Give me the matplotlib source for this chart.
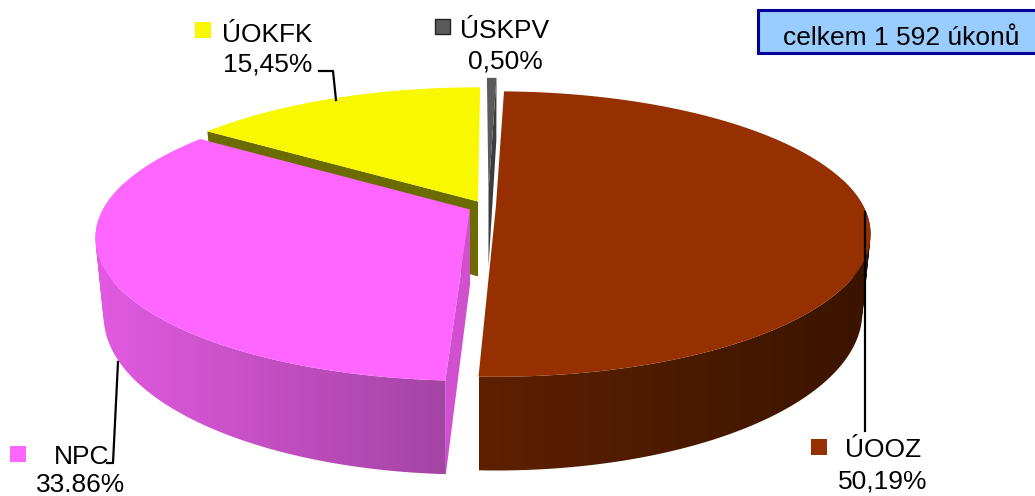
import matplotlib

matplotlib.use("Agg")
import matplotlib.pyplot as plt
import numpy as np
from matplotlib.colors import to_rgb
from matplotlib.patches import Polygon, Rectangle
from matplotlib.path import Path

plt.rcParams["font.family"] = ["Liberation Sans", "DejaVu Sans"]

labels = ["ÚOOZ", "NPC", "ÚOKFK", "ÚSKPV"]
shares = [50.19, 33.86, 15.45, 0.50]
share_texts = ["50,19%", "33.86%", "15,45%", "0,50%"]
note_text = "celkem 1 592 úkonů"

START_ANGLE = 1.5
RX, RY = 367.0, 137.0
PERSP = 0.2
DEPTH = 75.0
BOTTOM_SCALE = 0.978

top_colors = ["#963000", "#ff66ff", "#f8f800", "#5a5a5a"]
wall_left = ["#5e2000", "#e25ae2", None, None]
wall_right = ["#3a1400", "#a444a4", None, None]
radial_colors = [None, "#d050d0", "#6b6b00", "#3c3c3c"]
radial_edge = [None, 0, 0, 1]
centers = [(496, 205.5), (470, 209.5), (478, 201.5), (488.5, 192)]
angle_nudge = [0.0, 0.9, 0.7, 0.0]
draw_order = [3, 2, 1, 0]


def project(center, theta_deg):
    theta = np.radians(theta_deg)
    u, v = np.sin(theta), -np.cos(theta)
    w = 1.0 - PERSP * v
    return center[0] + RX * u / w, center[1] + RY * v / w, DEPTH / w


def bottom_x(center, x):
    return center[0] + (x - center[0]) * BOTTOM_SCALE


fig = plt.figure(figsize=(10.35, 4.96), dpi=100)
ax = fig.add_axes([0, 0, 1, 1])
ax.set_xlim(0, 1035)
ax.set_ylim(496, 0)
ax.set_autoscale_on(False)
ax.axis("off")

edges = START_ANGLE + np.concatenate([[0.0], np.cumsum(shares) * 3.6])

for i in draw_order:
    center = centers[i]
    a0, a1 = edges[i] + angle_nudge[i], edges[i + 1] + angle_nudge[i]
    thetas = np.linspace(a0, a1, 240)
    x, y, d = project(center, thetas)
    z = 2 + 0.1 * (3 - i)

    if radial_colors[i] is not None:
        ex, ey, ed = project(center, [a0, a1][radial_edge[i]])
        ax.add_patch(Polygon(
            [center, (ex, ey), (bottom_x(center, ex), ey + ed), (center[0], center[1] + DEPTH)],
            closed=True, fc=radial_colors[i], ec="none", zorder=z,
        ))

    if wall_left[i] is not None:
        front = np.cos(np.radians(thetas)) < 0.2
        fx, fy, fd = x[front], y[front], d[front]
        bx = bottom_x(center, fx)
        # the wall as one path of small quads, so the silhouette stays straight at the sides
        quads = []
        for j in range(len(fx) - 1):
            quad = np.array([(fx[j], fy[j]), (fx[j + 1], fy[j + 1]),
                             (bx[j + 1], fy[j + 1] + fd[j + 1]), (bx[j], fy[j] + fd[j]),
                             (fx[j], fy[j])])
            area = np.sum(quad[:-1, 0] * quad[1:, 1] - quad[1:, 0] * quad[:-1, 1])
            quads.append(Path(quad if area > 0 else quad[::-1]))
        ramp = np.linspace(to_rgb(wall_left[i]), to_rgb(wall_right[i]), 256)[None, :, :]
        image = ax.imshow(
            ramp,
            extent=[min(fx.min(), bx.min()), max(fx.max(), bx.max()), 496, 0],
            aspect="auto",
            interpolation="bilinear",
            zorder=z,
        )
        image.set_clip_path(Path.make_compound_path(*quads), transform=ax.transData)

    ax.add_patch(Polygon(
        np.vstack([[center], np.column_stack([x, y])]),
        closed=True, fc=top_colors[i], ec="none", zorder=3 + 0.1 * (3 - i),
    ))

ax.set_xlim(0, 1035)
ax.set_ylim(496, 0)

# leader lines
ax.plot([865, 865], [212, 431], color="black", lw=1.6, zorder=5)
ax.plot([118, 113, 107], [362, 463, 463], color="black", lw=1.6, zorder=5)
ax.plot([336, 333, 319], [100, 71, 71], color="black", lw=1.6, zorder=5)

# labels
name_pos = [(845, 457), (54, 464), (222, 41.5), (460, 38)]
share_pos = [(883, 488), (81, 492.5), (267.5, 71.5), (505, 69)]
swatches = [(811, 439), (10, 446), (195, 22), (434.5, 18.5)]
swatch_edges = ["none", "none", "none", "#222222"]
for i in range(len(labels)):
    ax.text(*name_pos[i], labels[i], fontsize=19, ha="left", va="baseline", zorder=6)
    ax.text(*share_pos[i], share_texts[i], fontsize=19, ha="center", va="baseline", zorder=6)
    ax.add_patch(Rectangle(swatches[i], 15.5, 15.5, fc=top_colors[i], ec=swatch_edges[i],
                           lw=1.0, zorder=6))

# note box, runs off the right edge
ax.add_patch(Rectangle((757.5, 9.5), 290, 43, fc="#99ccff", ec="#000099", lw=2.2, zorder=6))
ax.text(783, 45, note_text, fontsize=19, ha="left", va="baseline", zorder=7)

fig.savefig("out.png", dpi=100)
plt.close(fig)
